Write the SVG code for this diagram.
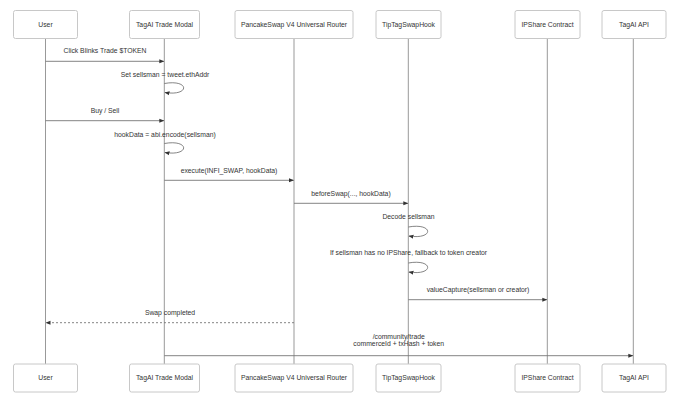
<svg xmlns="http://www.w3.org/2000/svg" width="680" height="401" viewBox="0 0 680 401">
<defs>
<marker id="ah" viewBox="0 0 10 10" refX="9" refY="5" markerWidth="5" markerHeight="5" orient="auto-start-reverse" markerUnits="userSpaceOnUse">
<path d="M0,1 L10,5 L0,9 z" fill="#333"/>
</marker>
<style>
.box{fill:#fff;stroke:#c8c8c8;stroke-width:1}
.life{stroke:#999;stroke-width:1}
.lbl{font-family:"Liberation Sans",Arial,sans-serif;font-size:6.8px;fill:#333;text-anchor:middle}
.msg{stroke:#777;stroke-width:0.9;fill:none;marker-end:url(#ah)}
.dot{stroke-dasharray:2,2}
</style>
</defs>
<rect width="680" height="401" fill="#fff"/>
<g id="lifelines">
<line class="life" x1="45.5" y1="38" x2="45.5" y2="364"/>
<line class="life" x1="164.3" y1="38" x2="164.3" y2="364"/>
<line class="life" x1="294" y1="38" x2="294" y2="364"/>
<line class="life" x1="408.3" y1="38" x2="408.3" y2="364"/>
<line class="life" x1="547.3" y1="38" x2="547.3" y2="364"/>
<line class="life" x1="633.3" y1="38" x2="633.3" y2="364"/>
</g>
<g id="user"><rect class="box" x="13.5" y="10.5" width="64" height="28" rx="2"/><text class="lbl" x="45.5" y="26.8">User</text>
<rect class="box" x="13.5" y="364" width="64" height="28" rx="2"/><text class="lbl" x="45.5" y="380.3">User</text></g>
<g id="modal"><rect class="box" x="129.5" y="10.5" width="70" height="28" rx="2"/><text class="lbl" x="164.5" y="26.8">TagAI Trade Modal</text>
<rect class="box" x="129.5" y="364" width="70" height="28" rx="2"/><text class="lbl" x="164.5" y="380.3">TagAI Trade Modal</text></g>
<g id="router"><rect class="box" x="235" y="10.5" width="118" height="28" rx="2"/><text class="lbl" x="294" y="26.8">PancakeSwap V4 Universal Router</text>
<rect class="box" x="235" y="364" width="118" height="28" rx="2"/><text class="lbl" x="294" y="380.3">PancakeSwap V4 Universal Router</text></g>
<g id="hook"><rect class="box" x="376" y="10.5" width="65" height="28" rx="2"/><text class="lbl" x="408.5" y="26.8">TipTagSwapHook</text>
<rect class="box" x="376" y="364" width="65" height="28" rx="2"/><text class="lbl" x="408.5" y="380.3">TipTagSwapHook</text></g>
<g id="ipshare"><rect class="box" x="515" y="10.5" width="65" height="28" rx="2"/><text class="lbl" x="547.5" y="26.8">IPShare Contract</text>
<rect class="box" x="515" y="364" width="65" height="28" rx="2"/><text class="lbl" x="547.5" y="380.3">IPShare Contract</text></g>
<g id="api"><rect class="box" x="602" y="10.5" width="64" height="28" rx="2"/><text class="lbl" x="634" y="26.8">TagAI API</text>
<rect class="box" x="602" y="364" width="64" height="28" rx="2"/><text class="lbl" x="634" y="380.3">TagAI API</text></g>
<g id="connectors">
<line class="msg" x1="45.5" y1="61.3" x2="163.8" y2="61.3"/>
<path class="msg" d="M164.3,83.5 C190,79 190,96.5 165,92.5"/>
<line class="msg" x1="45.5" y1="120.7" x2="163.8" y2="120.7"/>
<path class="msg" d="M164.3,143.5 C190,139 190,156.5 165,152.5"/>
<line class="msg" x1="164.3" y1="180.3" x2="293.5" y2="180.3"/>
<line class="msg" x1="294" y1="203.3" x2="407.8" y2="203.3"/>
<path class="msg" d="M408.3,227 C434,222.5 434,240 409,236"/>
<path class="msg" d="M408.3,263 C434,258.5 434,276 409,272"/>
<line class="msg" x1="408.3" y1="299.7" x2="546.8" y2="299.7"/>
<line class="msg dot" x1="294" y1="322.7" x2="46" y2="322.7"/>
<line class="msg" x1="164.3" y1="355.7" x2="632.8" y2="355.7"/>
</g>
<g id="labels">
<text class="lbl" x="105" y="53.2">Click Blinks Trade $TOKEN</text>
<text class="lbl" x="165" y="76.5">Set sellsman = tweet.ethAddr</text>
<text class="lbl" x="105" y="113.2">Buy / Sell</text>
<text class="lbl" x="165" y="136.5">hookData = abi.encode(sellsman)</text>
<text class="lbl" x="229" y="172.5">execute(INFI_SWAP, hookData)</text>
<text class="lbl" x="351" y="195.8">beforeSwap(..., hookData)</text>
<text class="lbl" x="408.5" y="218.5">Decode sellsman</text>
<text class="lbl" x="408.5" y="255.2">If sellsman has no IPShare, fallback to token creator</text>
<text class="lbl" x="478" y="291.5">valueCapture(sellsman or creator)</text>
<text class="lbl" x="170" y="314.8">Swap completed</text>
<text class="lbl" x="398.7" y="338.5">/community/trade</text>
<text class="lbl" x="398.7" y="346.2">commerceId + txHash + token</text>
</g>
</svg>
